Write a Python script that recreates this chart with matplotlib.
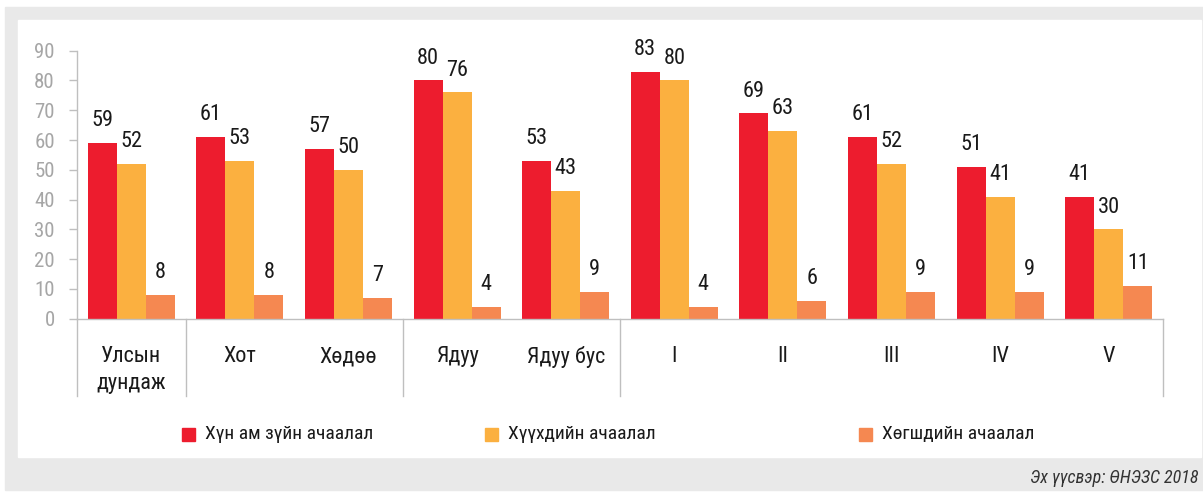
import numpy as np
import matplotlib
matplotlib.use("Agg")
import matplotlib.pyplot as plt
from matplotlib import font_manager
from matplotlib.patches import Rectangle
import matplotlib.transforms as mtransforms

# pick a narrow font if one is installed
names = {f.name for f in font_manager.fontManager.ttflist}
font = "DejaVu Sans"
for cand in ["Roboto Condensed", "Liberation Sans Narrow", "Roboto", "Liberation Sans"]:
    if cand in names:
        font = cand
        break
plt.rcParams["font.family"] = [font, "DejaVu Sans"]

# data
categories = ["Улсын\nдундаж", "Хот", "Хөдөө", "Ядуу", "Ядуу бус",
              "I", "II", "III", "IV", "V"]
total_dep = [59, 61, 57, 80, 53, 83, 69, 61, 51, 41]
child_dep = [52, 53, 50, 76, 43, 80, 63, 52, 41, 30]
old_dep = [8, 8, 7, 4, 9, 4, 6, 9, 9, 11]
series_names = ["Хүн ам зүйн ачаалал", "Хүүхдийн ачаалал", "Хөгшдийн ачаалал"]
colors = ["#ED1C2E", "#FBB040", "#F58851"]
source = "Эх үүсвэр: ӨНЭЗС 2018"

W, H = 1203, 497
fig = plt.figure(figsize=(W / 100, H / 100), dpi=100)
fig.patch.set_facecolor("white")

def px(x, y):
    return x / W, 1 - y / H

# gray frame and white panel
fig.patches.append(Rectangle(px(5, 490), (W - 5) / W, 483 / H,
                             transform=fig.transFigure, color="#E9E9E9", zorder=-10))
fig.patches.append(Rectangle(px(18, 457), (1201 - 18) / W, (457 - 20) / H,
                             transform=fig.transFigure, color="white", zorder=-9))

ax = fig.add_axes([77 / W, 1 - 318.7 / H, (1163 - 77) / W, 268 / H])
ax.set_facecolor("none")
ax.set_zorder(2)

x = np.arange(len(categories))
bw = 0.267
series = [total_dep, child_dep, old_dep]
for i, (vals, col) in enumerate(zip(series, colors)):
    pos = x + (i - 1) * bw
    ax.bar(pos, vals, width=bw, color=col, edgecolor="none", zorder=2)
    for xp, v in zip(pos, vals):
        ax.annotate(str(v), (xp, v), xytext=(0, 12), textcoords="offset points",
                    ha="center", va="baseline", fontsize=16, color="#1a1a1a")

ax.set_xlim(-0.5, len(categories) - 0.5)
ax.set_ylim(0, 90)
ax.set_yticks(np.arange(0, 91, 10))
ax.tick_params(axis="y", length=6, width=1, color="#BFBFBF", pad=10,
               labelsize=15, labelcolor="#A6A6A6")
ax.set_xticks(x)
ax.set_xticklabels(categories, fontsize=16, color="#1a1a1a", linespacing=1.35)
ax.tick_params(axis="x", length=0, pad=20)
for lbl in ax.get_xticklabels():
    lbl.set_verticalalignment("top")

for s in ["top", "right"]:
    ax.spines[s].set_visible(False)
for s in ["left", "bottom"]:
    ax.spines[s].set_color("#BFBFBF")
    ax.spines[s].set_linewidth(1)

# group separators below the axis
trans = mtransforms.blended_transform_factory(ax.transData, ax.transAxes)
for b in [-0.5, 0.5, 2.5, 4.5, len(categories) - 0.5]:
    ax.plot([b, b], [0, -0.29], transform=trans, color="#BFBFBF", lw=1, clip_on=False)

# legend
leg_x = [182, 485, 859]
for lx, name, col in zip(leg_x, series_names, colors):
    fig.patches.append(Rectangle(px(lx, 441), 13 / W, 13 / H,
                                 transform=fig.transFigure, color=col))
    fig.text(*px(lx + 23, 434), name, fontsize=14, color="#1a1a1a",
             va="center", ha="left")

fig.text(*px(1199, 478), source, fontsize=13, style="italic",
         color="#333333", ha="right", va="center")

fig.savefig("out.png", dpi=100)
